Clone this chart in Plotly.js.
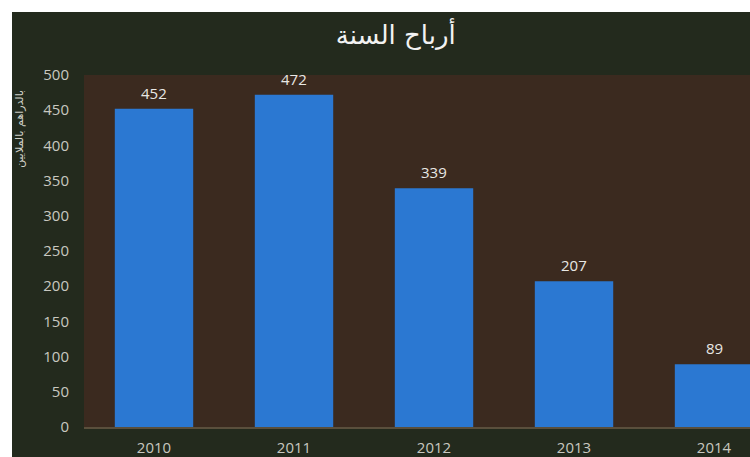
<!DOCTYPE html>
<html>
<head>
<meta charset="utf-8">
<script src="https://cdn.plot.ly/plotly-3.0.1.min.js"></script>
<style>
html,body{margin:0;padding:0;background:#ffffff;width:750px;height:457px;overflow:hidden;}
#chart{position:absolute;left:12px;top:12px;width:738px;height:445px;}
</style>
</head>
<body>
<div id="chart"></div>
<script>
const years = ['2010', '2011', '2012', '2013', '2014'];
const profits = [452, 472, 339, 207, 89];
const chartTitle = 'أرباح السنة';
const yTitle = 'بالدراهم بالملايين';

const trace = {
  type: 'bar',
  x: years,
  y: profits,
  marker: {color: '#2b78d2', line: {width: 0}},
  width: 0.56,
  hoverinfo: 'none'
};

const valueLabels = years.map((yr, i) => ({
  x: i, y: profits[i],
  xref: 'x', yref: 'y',
  text: String(profits[i]),
  showarrow: false,
  xanchor: 'center',
  yanchor: 'middle',
  yshift: 16,
  font: {family: 'Open Sans, DejaVu Sans, sans-serif', size: 15, color: '#e8e8e4'}
}));

const layout = {
  width: 738,
  height: 445,
  margin: {l: 72, r: 0, t: 63, b: 30},
  paper_bgcolor: '#232a1d',
  plot_bgcolor: '#3b2a1f',
  showlegend: false,
  title: {
    text: chartTitle,
    x: 0.52, xref: 'container', xanchor: 'center',
    y: 0.97, yref: 'container', yanchor: 'top',
    font: {family: 'DejaVu Sans, Noto Sans, sans-serif', size: 26, color: '#f2f2f2'}
  },
  xaxis: {
    type: 'category',
    range: [-0.5, 4.257],
    showgrid: false,
    zeroline: false,
    showline: true,
    linecolor: '#5a4f3c',
    linewidth: 2,
    ticks: '',
    ticklabelstandoff: 6,
    tickfont: {family: 'Open Sans, DejaVu Sans, sans-serif', size: 15, color: '#c8c8c0'},
    fixedrange: true
  },
  yaxis: {
    range: [0, 500],
    tickvals: [0, 50, 100, 150, 200, 250, 300, 350, 400, 450, 500],
    showgrid: false,
    zeroline: false,
    showline: false,
    ticks: '',
    ticklabelstandoff: 14,
    tickfont: {family: 'Open Sans, DejaVu Sans, sans-serif', size: 15, color: '#c8c8c0'},
    fixedrange: true
  },
  annotations: valueLabels.concat([{
    text: yTitle,
    xref: 'paper', yref: 'paper',
    x: 0, y: 0.847,
    xshift: -64,
    xanchor: 'center', yanchor: 'middle',
    textangle: -90,
    showarrow: false,
    font: {family: 'DejaVu Sans, Noto Sans, sans-serif', size: 11, color: '#d0d0c8'}
  }])
};

Plotly.newPlot('chart', [trace], layout, {displayModeBar: false, staticPlot: true});
</script>
</body>
</html>
